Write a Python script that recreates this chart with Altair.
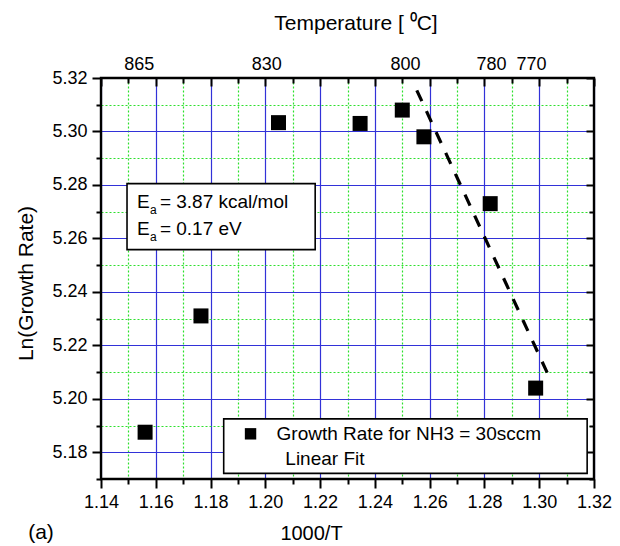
import altair as alt
import pandas as pd

# ---- data ----
inv_T = [1.1561, 1.1765, 1.2048, 1.2346, 1.2500, 1.2579, 1.2821, 1.2987]
ln_rate = [5.1875, 5.2310, 5.3033, 5.3030, 5.3080, 5.2980, 5.2730, 5.2040]

fit_x = [1.2553, 1.3042]
fit_y = [5.3154, 5.2069]

temp_labels = ["865", "830", "800", "780", "770"]
temp_pos = [1.1540, 1.2005, 1.2512, 1.2826, 1.2972]

x_major = [1.14, 1.16, 1.18, 1.20, 1.22, 1.24, 1.26, 1.28, 1.30, 1.32]
x_minor = [1.15, 1.17, 1.19, 1.21, 1.23, 1.25, 1.27, 1.29, 1.31]
y_major = [5.18, 5.20, 5.22, 5.24, 5.26, 5.28, 5.30, 5.32]
y_minor = [5.17, 5.19, 5.21, 5.23, 5.25, 5.27, 5.29, 5.31]

FONT = "Liberation Sans"
W, H = 493, 401

x_ticks = sorted(x_major + x_minor)
y_ticks = sorted(y_major + y_minor)

pts = pd.DataFrame({"x": inv_T, "y": ln_rate})
fit = pd.DataFrame({"x": fit_x, "y": fit_y})
tops = pd.DataFrame({"x": temp_pos, "label": temp_labels})

xs = alt.Scale(domain=[1.14, 1.32], nice=False, zero=False)
ys = alt.Scale(domain=[5.17, 5.32], nice=False, zero=False)

major = "abs(round(datum.value*100)) % 2 === 0"
grid_color = {"condition": {"test": major, "value": "#3232d8"}, "value": "#2ee02e"}
grid_dash = {"condition": {"test": major, "value": []}, "value": [2, 2]}
tick_size = {"condition": {"test": major, "value": 9}, "value": 5}

x_bottom = alt.Axis(
    orient="bottom", values=x_ticks, grid=True, gridColor=grid_color,
    gridDash=grid_dash, gridWidth=1.2, domain=False,
    labelExpr=f"{major} ? format(datum.value, '.2f') : ''",
    tickSize=tick_size, tickWidth=2, tickColor="black", labelPadding=5,
    labelFont=FONT, labelFontSize=18, labelColor="black", labelFlush=False,
    title="1000/T", titleFont=FONT, titleFontSize=20, titleFontWeight="normal",
    titleColor="black", titleX=210, titleY=54, titleBaseline="middle",
)
y_left = alt.Axis(
    orient="left", values=y_ticks, grid=True, gridColor=grid_color,
    gridDash=grid_dash, gridWidth=1.2, domain=False,
    labelExpr=f"{major} ? format(datum.value, '.2f') : ''",
    tickSize=tick_size, tickWidth=2, tickColor="black", labelPadding=5,
    labelFont=FONT, labelFontSize=18, labelColor="black",
    title="Ln(Growth Rate)", titleFont=FONT, titleFontSize=21,
    titleFontWeight="normal", titleColor="black", titleX=-75, titleY=205,
    titleBaseline="middle", titleAngle=-90,
)

def inner_axis(orient, values, size):
    return alt.Axis(orient=orient, values=values, grid=False, domain=False,
                    labels=False, tickSize=size, tickWidth=2, tickColor="black",
                    offset=-size, title=None)

points = alt.Chart(pts).mark_square(size=225, color="black", opacity=1).encode(
    x=alt.X("x:Q", scale=xs, axis=x_bottom),
    y=alt.Y("y:Q", scale=ys, axis=y_left),
)

line = alt.Chart(fit).mark_line(color="black", strokeWidth=3.2,
                                strokeDash=[12, 11]).encode(
    x=alt.X("x:Q", scale=xs, axis=inner_axis("top", x_major, 8)),
    y=alt.Y("y:Q", scale=ys, axis=inner_axis("right", y_major, 8)),
)

one = alt.Data(values=[{"a": 1}])

def box(x1, x2, y1, y2):
    return alt.Chart(one).mark_rect(fill="white", stroke="black", strokeWidth=1.6).encode(
        x=alt.X("x1:Q", scale=xs, axis=None), x2="x2:Q",
        y=alt.Y("y1:Q", scale=ys, axis=None), y2="y2:Q",
    ).transform_calculate(x1=str(x1), x2=str(x2), y1=str(y1), y2=str(y2))

def txt(text, x, y, size=19, dx=0, dy=0):
    return alt.Chart(one).mark_text(
        text=text, font=FONT, fontSize=size, align="left", baseline="middle",
        color="black", dx=dx, dy=dy,
    ).encode(
        x=alt.X("xx:Q", scale=xs, axis=None),
        y=alt.Y("yy:Q", scale=ys, axis=None),
    ).transform_calculate(xx=str(x), yy=str(y))

# Ea text box
ea_box = box(1.1495, 1.2182, 5.2558, 5.2805)
ea1 = txt("E", 1.1531, 5.2736)
ea1s = txt("a", 1.1531, 5.2736, size=12, dx=13, dy=8)
ea1r = txt("= 3.87 kcal/mol", 1.1531, 5.2736, dx=23)
ea2 = txt("E", 1.1531, 5.2634)
ea2s = txt("a", 1.1531, 5.2634, size=12, dx=13, dy=8)
ea2r = txt("= 0.17 eV", 1.1531, 5.2634, dx=23)

# legend box
leg_box = box(1.1848, 1.3175, 5.1721, 5.1925)
leg_sq = alt.Chart(one).mark_square(size=130, color="black", opacity=1).encode(
    x=alt.X("xx:Q", scale=xs, axis=inner_axis("top", x_minor, 5)),
    y=alt.Y("yy:Q", scale=ys, axis=inner_axis("right", y_minor, 5)),
).transform_calculate(xx="1.1946", yy="5.1869")
leg_t1 = txt("Growth Rate for NH3 = 30sccm", 1.2041, 5.1869)
leg_t2 = txt("Linear Fit", 1.2073, 5.1775)

# top temperature labels
top_lab = alt.Chart(tops).mark_text(font=FONT, fontSize=18, baseline="middle",
                                    color="black").encode(
    x=alt.X("x:Q", scale=xs, axis=None),
    y=alt.value(-13),
    text="label:N",
)

title = alt.Chart(one).mark_text(text="Temperature [ \u2070C]", font=FONT, fontSize=21,
                                 baseline="middle", color="black").encode(
    x=alt.value(255), y=alt.value(-54))
panel = alt.Chart(one).mark_text(text="(a)", font=FONT, fontSize=21,
                                 baseline="middle", color="black").encode(
    x=alt.value(-60), y=alt.value(455))

frame = alt.Chart(one).mark_rect(fillOpacity=0, stroke="black", strokeWidth=2.4).encode(
    x=alt.value(0), x2=alt.value(W), y=alt.value(0), y2=alt.value(H))

chart = alt.layer(
    points, line, ea_box, ea1, ea1s, ea1r, ea2, ea2s, ea2r,
    leg_box, leg_sq, leg_t1, leg_t2, top_lab, title, panel, frame,
).resolve_axis(x="independent", y="independent").properties(
    width=W, height=H,
    autosize=alt.AutoSizeParams(type="none"),
    padding={"left": 101, "top": 78, "right": 26, "bottom": 67},
    background="white",
).configure_view(stroke=None)

chart.save("out.html", embed_options={"renderer": "svg", "actions": False})
